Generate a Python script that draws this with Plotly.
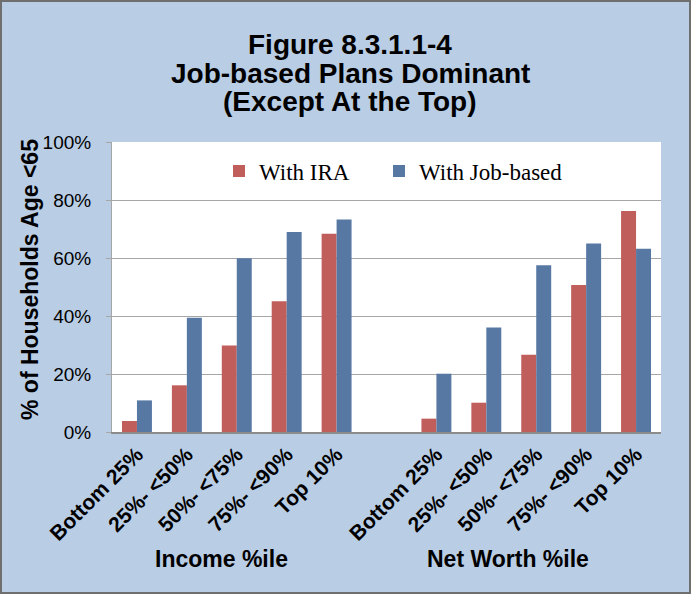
import plotly.graph_objects as go

income_labels = ["Bottom 25%", "25%- <50%", "50%- <75%", "75%- <90%", "Top 10%"]
networth_labels = ["Bottom 25%", "25%- <50%", "50%- <75%", "75%- <90%", "Top 10%"]
ira_income = [3.8, 16.1, 29.8, 45.1, 68.4]
job_income = [10.9, 39.4, 59.9, 69.0, 73.3]
ira_networth = [4.6, 10.1, 26.6, 50.7, 76.2]
job_networth = [20.1, 36.0, 57.5, 65.0, 63.2]
group_labels = ["Income %ile", "Net Worth %ile"]
title_lines = ["Figure 8.3.1.1-4", "Job-based Plans Dominant", "(Except At the Top)"]
y_title = "% of Households Age <65"
y_ticks = [0, 20, 40, 60, 80, 100]

# category slots: income group, one empty slot, net worth group
n_inc = len(income_labels)
x_pos = list(range(n_inc)) + [n_inc + 1 + i for i in range(len(networth_labels))]
tick_text = income_labels + networth_labels
ira_vals = [v / 100 for v in ira_income + ira_networth]
job_vals = [v / 100 for v in job_income + job_networth]

W, H = 691, 594
ml, mr, mt, mb = 112, 30, 142, 162
pw, ph = W - ml - mr, H - mt - mb

fig = go.Figure()
fig.add_trace(go.Bar(x=x_pos, y=ira_vals, name="With IRA", legend="legend",
                     marker=dict(color="#BF5E5B", line=dict(width=0))))
fig.add_trace(go.Bar(x=x_pos, y=job_vals, name="With Job-based", legend="legend2",
                     marker=dict(color="#5878A4", line=dict(width=0))))

def px_x(p):
    return (p - ml) / pw

def px_y(p):
    return (mt + ph - p) / ph

SANS = "Liberation Sans, Arial, sans-serif"
SERIF = "Liberation Serif, Times New Roman, serif"
annotations = []
for lbl, cx in zip(group_labels, [221, 508]):
    annotations.append(dict(text="<b>" + lbl + "</b>", x=px_x(cx), y=px_y(559), xref="paper", yref="paper",
                            showarrow=False, font=dict(family=SANS, size=23, color="#000000"),
                            xanchor="center", yanchor="middle"))
annotations.append(dict(text="<b>" + y_title.replace("<", "&lt;") + "</b>", x=px_x(30), y=px_y(280),
                        xref="paper", yref="paper", showarrow=False, textangle=-90,
                        font=dict(family=SANS, size=23, color="#000000"),
                        xanchor="center", yanchor="middle"))
for line, cy in zip(title_lines, [44, 73, 102]):
    annotations.append(dict(text="<b>" + line + "</b>", x=px_x(350), y=px_y(cy), xref="paper", yref="paper",
                            showarrow=False, font=dict(family=SANS, size=28, color="#000000"),
                            xanchor="center", yanchor="middle"))

legend_common = dict(orientation="h", y=px_y(171), xanchor="left", yanchor="middle",
                     bgcolor="rgba(0,0,0,0)", font=dict(family=SERIF, size=23, color="#000000"),
                     itemclick=False, itemdoubleclick=False)

fig.update_layout(
    width=W, height=H,
    margin=dict(l=ml, r=mr, t=mt, b=mb, pad=0),
    paper_bgcolor="#B9CDE5",
    plot_bgcolor="#FFFFFF",
    barmode="group", bargap=0.4, bargroupgap=0,
    showlegend=True,
    legend=dict(x=px_x(219), **legend_common),
    legend2=dict(x=px_x(379), **legend_common),
    annotations=annotations,
    shapes=[dict(type="rect", xref="paper", yref="paper",
                 x0=px_x(1), x1=px_x(690), y0=px_y(593), y1=px_y(1),
                 line=dict(color="#6F6F6F", width=2), fillcolor="rgba(0,0,0,0)", layer="above")],
    hovermode=False,
)
fig.update_xaxes(range=[-0.5, 10.5], tickmode="array", tickvals=x_pos,
                 ticktext=["<b>" + t.replace("<", "&lt;") + "</b>" for t in tick_text],
                 tickangle=-45, tickfont=dict(family=SANS, size=21, color="#000000"),
                 showgrid=False, showline=True, linecolor="#8C8C8C", linewidth=2, ticks="", zeroline=False)
fig.update_yaxes(range=[0, 1], tickmode="array", tickvals=[v / 100 for v in y_ticks],
                 ticktext=[f"{v}%" for v in y_ticks],
                 tickfont=dict(family=SANS, size=19, color="#000000"),
                 showgrid=True, gridcolor="#A6A6A6", gridwidth=1,
                 showline=True, linecolor="#A6A6A6", linewidth=1,
                 ticks="outside", ticklen=5, tickcolor="#A6A6A6", ticklabelstandoff=11, zeroline=False)

fig.write_html("out.html", config={"displayModeBar": False},
               post_script="document.body.style.margin='0';")
